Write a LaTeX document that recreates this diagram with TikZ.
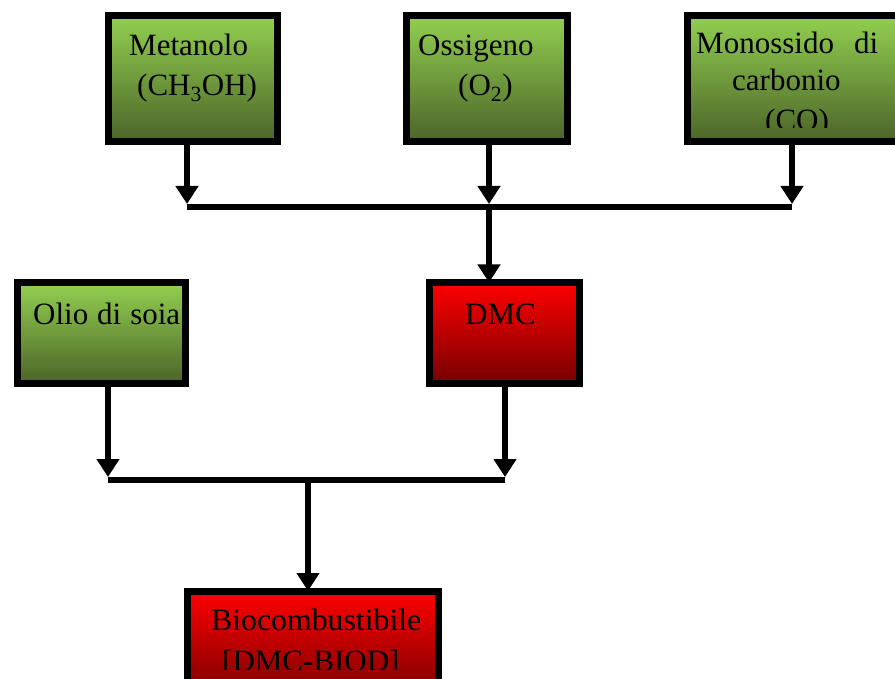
\documentclass[tikz,border=0pt]{standalone}
\usepackage{fontspec}
\setmainfont{Liberation Serif}
\usetikzlibrary{arrows.meta}
\definecolor{gtop}{RGB}{146,208,80}
\definecolor{gbot}{RGB}{76,100,40}
\definecolor{rtop}{RGB}{255,0,0}
\definecolor{rbot}{RGB}{118,0,0}
\begin{document}
\begin{tikzpicture}[x=1pt,y=-1pt,
  gbox/.style={draw=black,line width=7pt,top color=gtop,bottom color=gbot,inner sep=0pt},
  rbox/.style={draw=black,line width=7pt,top color=rtop,bottom color=rbot,inner sep=0pt},
  lbl/.style={anchor=base west,inner sep=0pt,font=\fontsize{31}{36}\selectfont},
  conn/.style={line width=6.5pt,draw=black},
  arr/.style={conn,-{Triangle[width=22pt,length=18pt]}}]
\useasboundingbox (0,0) rectangle (895,679);
\clip (0,0) rectangle (895,679);
\fill[white] (0,0) rectangle (895,679);

% boxes
\node[gbox,minimum width=169pt,minimum height=126pt] (met) at (193,78.5) {};
\node[gbox,minimum width=161pt,minimum height=126pt] (oss) at (487,78.5) {};
\node[gbox,minimum width=218pt,minimum height=126pt] (mon) at (796,78.5) {};
\node[gbox,minimum width=168pt,minimum height=101pt] (olio) at (101.5,333) {};
\node[rbox,minimum width=150pt,minimum height=101pt] (dmc) at (504.5,333) {};
\node[rbox,minimum width=251pt,minimum height=109pt] (bio) at (313,645.5) {};

% labels
\node[lbl] (tmet1) at (129,56) {Metanolo};
\node[lbl] (tmet2) at (137,96) {(CH\textsubscript{3}OH)};
\node[lbl] (toss1) at (418,56) {Ossigeno};
\node[lbl] (toss2) at (458,96) {(O\textsubscript{2})};
\begin{scope}
\clip (684,15) rectangle (900,128);
\node[lbl] (tmon1) at (696,54) {\makebox[182pt][s]{Monossido di}};
\node[lbl] (tmon2) at (732,91) {carbonio};
\node[lbl] (tmon3) at (765,131) {(CO)};
\end{scope}
\node[lbl] (tolio) at (33,324) {\makebox[147pt][s]{Olio di soia}};
\node[lbl] (tdmc) at (465,325) {DMC};
\begin{scope}
\clip (184,591) rectangle (445,669);
\node[lbl] (tbio1) at (211,630) {\scalebox{1.025}[1]{Biocombustibile}};
\node[lbl] (tbio2) at (222,671) {[DMC-BIOD]};
\end{scope}

% junction coordinates
\coordinate (j1) at (187,204);
\coordinate (j2) at (489,204);
\coordinate (j3) at (792,204);
\coordinate (b1L) at (187,207);
\coordinate (b1R) at (792,207);
\coordinate (b1M) at (489,207);
\coordinate (k1) at (108,477);
\coordinate (k2) at (505,477);
\coordinate (b2L) at (108,480);
\coordinate (b2R) at (505,480);
\coordinate (b2M) at (308,480);

% connectors
\draw[arr] (met.south -| j1) -- (j1);
\draw[arr] (oss.south -| j2) -- (j2);
\draw[arr] (mon.south -| j3) -- (j3);
\draw[conn] (b1L) -- (b1R);
\draw[arr] (b1M) -- ([yshift=-3.5pt]dmc.north -| b1M);
\draw[arr] (olio.south -| k1) -- (k1);
\draw[arr] (dmc.south -| k2) -- (k2);
\draw[conn] (b2L) -- (b2R);
\draw[arr] (b2M) -- ([yshift=-3.5pt]bio.north -| b2M);
\end{tikzpicture}
\end{document}
